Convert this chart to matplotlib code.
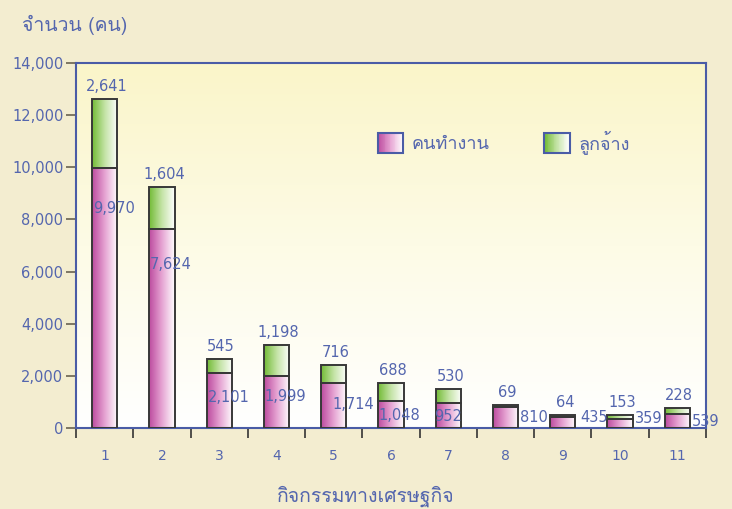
import numpy as np
import matplotlib
matplotlib.use('Agg')
import matplotlib.pyplot as plt
from matplotlib import font_manager
from matplotlib.ft2font import FT2Font
from matplotlib.colors import LinearSegmentedColormap
from matplotlib.legend_handler import HandlerBase
from matplotlib.patches import Rectangle
from matplotlib.ticker import FuncFormatter, FixedLocator


def find_thai_font():
    for f in font_manager.fontManager.ttflist:
        try:
            if 0x0E01 in FT2Font(f.fname).get_charmap():
                return f.name
        except Exception:
            pass
    return None


thai = find_thai_font()
# DejaVu for the digits (close to Tahoma), Thai font as fallback
plt.rcParams['font.family'] = ['DejaVu Sans'] + ([thai] if thai else [])

# data
categories = ['1', '2', '3', '4', '5', '6', '7', '8', '9', '10', '11']
workers = [9970, 7624, 2101, 1999, 1714, 1048, 952, 810, 435, 359, 539]
employees = [2641, 1604, 545, 1198, 716, 688, 530, 69, 64, 153, 228]
series_names = ['คนทำงาน', 'ลูกจ้าง']
y_title = 'จำนวน (คน)'
x_title = 'กิจกรรมทางเศรษฐกิจ'

# quirky placement of the worker labels (pixels from top of pink bar)
worker_label_offsets = [(9, -40), (9, -35), (10, -24), (9, -21), (20, -21), (8, -15),
                        (0, -13), (28, -11), (31, -1), (29, 0), (28, -8)]

text_blue = '#5466AE'
axis_blue = '#4A5CA6'
fig_bg = '#F3EDD0'
thai_family = ([thai] if thai else []) + ['DejaVu Sans']

pink_cmap = LinearSegmentedColormap.from_list('pink', ['#BC4A9E', '#E6A4D3', '#FFFFFF'])
green_cmap = LinearSegmentedColormap.from_list('green', ['#72BB35', '#C4E3A6', '#FFFFFF'])


class GradientHandler(HandlerBase):
    def __init__(self, cmap):
        super().__init__()
        self.cmap = cmap

    def create_artists(self, legend, orig_handle, xdescent, ydescent, width, height, fontsize, trans):
        n = 30
        arts = []
        for i in range(n):
            arts.append(Rectangle((-xdescent + i * width / n, -ydescent), width / n + 0.3, height,
                                  facecolor=self.cmap(i / (n - 1)), edgecolor='none', transform=trans))
        arts.append(Rectangle((-xdescent, -ydescent), width, height, facecolor='none',
                              edgecolor=axis_blue, lw=1.5, transform=trans))
        return arts


fig = plt.figure(figsize=(7.32, 5.09), dpi=100, facecolor=fig_bg)
ax = fig.add_axes([76 / 732, 1 - 428 / 509, 630 / 732, 365 / 509])

x = np.arange(len(categories))
width = 0.44
b1 = ax.bar(x, workers, width, edgecolor='#383838', linewidth=1.4, facecolor='none', zorder=3)
b2 = ax.bar(x, employees, width, bottom=workers, edgecolor='#383838', linewidth=1.4,
            facecolor='none', zorder=3)

grad = np.linspace(0, 1, 256).reshape(1, -1)
for bars, cmap in ((b1, pink_cmap), (b2, green_cmap)):
    for r in bars:
        x0, y0, w, h = r.get_x(), r.get_y(), r.get_width(), r.get_height()
        ax.imshow(grad, cmap=cmap, extent=[x0, x0 + w, y0, y0 + h], aspect='auto',
                  zorder=2, interpolation='bilinear')

# plot-area background gradient
bg_cmap = LinearSegmentedColormap.from_list('bg', ['#FFFFFF', '#FDFBE6', '#FAF5C9'])
ax.imshow(np.linspace(0, 1, 256).reshape(-1, 1), cmap=bg_cmap, extent=[0, 1, 0, 1],
          origin='lower', aspect='auto', transform=ax.transAxes, zorder=0)

ax.set_xlim(-0.5, len(categories) - 0.5)
ax.set_ylim(0, 14000)

# labels
for i, (w, e) in enumerate(zip(workers, employees)):
    ax.annotate(f'{e:,}', (x[i], w + e), xytext=(2, 5), textcoords='offset pixels',
                ha='center', va='bottom', color=text_blue, fontsize=10.5, zorder=5)
    dx, dy = worker_label_offsets[i]
    ax.annotate(f'{w:,}', (x[i], w), xytext=(dx, dy), textcoords='offset pixels',
                ha='center', va='center', color=text_blue, fontsize=10.5, zorder=5)

# axes styling
for s in ax.spines.values():
    s.set_color(axis_blue)
    s.set_linewidth(1.5)

ax.set_yticks(np.arange(0, 14001, 2000))
ax.yaxis.set_major_formatter(FuncFormatter(lambda v, p: f'{int(v):,}'))
ax.tick_params(axis='y', direction='out', length=7, width=1.2, color='#6A6250',
               labelcolor=text_blue, labelsize=10.5, pad=2)

ax.set_xticks(x)
ax.set_xticklabels(categories)
ax.xaxis.set_minor_locator(FixedLocator(np.arange(-0.5, len(categories), 1.0)))
ax.tick_params(axis='x', which='major', length=0, pad=15, labelcolor=text_blue, labelsize=10)
ax.tick_params(axis='x', which='minor', direction='out', length=7, width=1.2, color='#333333')

fig.text(22 / 732, 1 - 25 / 509, y_title, ha='left', va='center', color=text_blue,
         fontsize=14, family=thai_family)
fig.text(366 / 732, 1 - 496 / 509, x_title, ha='center', va='center', color=text_blue,
         fontsize=14, family=thai_family)

h1 = Rectangle((0, 0), 1, 1)
h2 = Rectangle((0, 0), 1, 1)
ax.legend([h1, h2], series_names, handler_map={h1: GradientHandler(pink_cmap), h2: GradientHandler(green_cmap)},
          loc='center left', bbox_to_anchor=(0.479, 0.784), frameon=False, ncol=2,
          prop={'family': thai_family, 'size': 13}, labelcolor=text_blue,
          handlelength=1.4, handleheight=1.3,
          handletextpad=0.5, columnspacing=3.0, borderpad=0, borderaxespad=0)

fig.savefig('out.png', dpi=100, facecolor=fig_bg)
